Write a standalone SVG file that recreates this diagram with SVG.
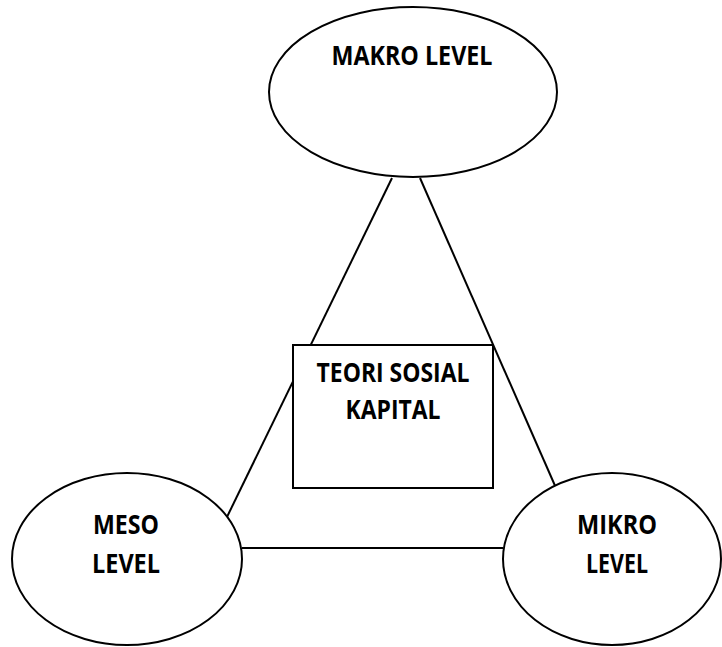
<svg xmlns="http://www.w3.org/2000/svg" width="722" height="647" viewBox="0 0 722 647">
<style>
.shape{fill:#fff;stroke:#000;stroke-width:2}
.conn{stroke:#000;stroke-width:2;fill:none}
.lbl{font-family:"Open Sans","Liberation Sans",sans-serif;font-weight:bold;font-size:26.5px;fill:#000;text-anchor:middle}
</style>
<rect width="722" height="647" fill="#fff"/>
<g id="connectors">
<line class="conn" x1="392" y1="178" x2="226" y2="519"/>
<line class="conn" x1="420" y1="178" x2="556" y2="488"/>
<line class="conn" x1="242" y1="548" x2="503" y2="548"/>
</g>
<g id="makro">
<ellipse class="shape" cx="413" cy="92" rx="144" ry="85"/>
<text class="lbl" x="412" y="65" textLength="161" lengthAdjust="spacingAndGlyphs">MAKRO LEVEL</text>
</g>
<g id="meso">
<ellipse class="shape" cx="127" cy="559" rx="115" ry="86"/>
<text class="lbl" x="126" y="534" textLength="66" lengthAdjust="spacingAndGlyphs">MESO</text>
<text class="lbl" x="126" y="573" textLength="68" lengthAdjust="spacingAndGlyphs">LEVEL</text>
</g>
<g id="mikro">
<ellipse class="shape" cx="612" cy="559" rx="109" ry="86"/>
<text class="lbl" x="617" y="534" textLength="80" lengthAdjust="spacingAndGlyphs">MIKRO</text>
<text class="lbl" x="617" y="573" textLength="62" lengthAdjust="spacingAndGlyphs">LEVEL</text>
</g>
<g id="teori">
<rect class="shape" x="293" y="345" width="200" height="143"/>
<text class="lbl" x="393" y="382" textLength="153" lengthAdjust="spacingAndGlyphs">TEORI SOSIAL</text>
<text class="lbl" x="393" y="419" textLength="95" lengthAdjust="spacingAndGlyphs">KAPITAL</text>
</g>
</svg>
